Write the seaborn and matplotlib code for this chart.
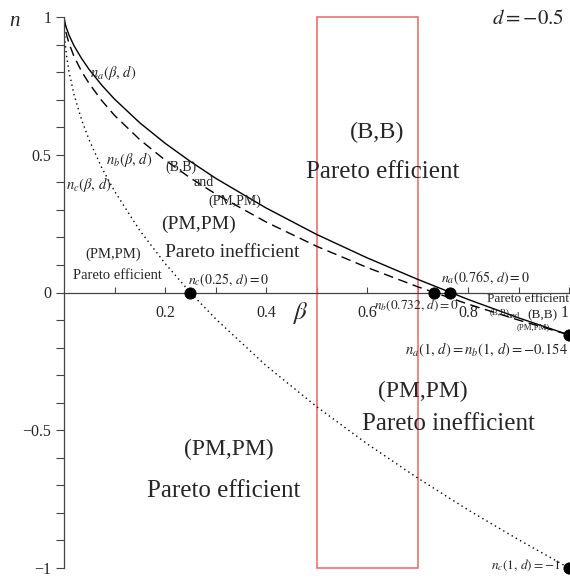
import numpy as np
import pandas as pd
import matplotlib
matplotlib.use("Agg")
import matplotlib.pyplot as plt
import seaborn as sns
from matplotlib.ticker import MultipleLocator, FixedLocator
from matplotlib.patches import Rectangle

# ---- data ----
beta = [0.0, 0.002, 0.005, 0.01, 0.02, 0.035, 0.05, 0.075, 0.1, 0.15, 0.2,
        0.25, 0.3, 0.4, 0.5, 0.6, 0.7, 0.8, 0.9, 1.0]
n_a = [1.0, 0.978, 0.959, 0.934, 0.895, 0.849, 0.809, 0.752, 0.702, 0.616, 0.542,
       0.476, 0.415, 0.307, 0.211, 0.126, 0.048, -0.025, -0.092, -0.154]
n_b = [1.0, 0.963, 0.936, 0.904, 0.856, 0.802, 0.758, 0.696, 0.643, 0.555, 0.481,
       0.416, 0.358, 0.256, 0.168, 0.091, 0.021, -0.042, -0.100, -0.154]
n_c = [1.0, 0.911, 0.859, 0.800, 0.717, 0.626, 0.553, 0.452, 0.368, 0.225, 0.106,
       0.0, -0.095, -0.265, -0.414, -0.549, -0.673, -0.789, -0.897, -1.0]

point_beta = [0.25, 0.732, 0.765, 1.0, 1.0]
point_n = [0.0, 0.0, 0.0, -0.154, -1.0]

highlight_beta = [0.5, 0.7]
highlight_n = [-1.0, 1.0]

x_ticks = [0.2, 0.4, 0.6, 0.8, 1.0]
x_tick_labels = ["0.2", "0.4", "0.6", "0.8", "1"]
x_minor = [0.1, 0.3, 0.5, 0.7, 0.9]
y_ticks = [-1.0, -0.5, 0.0, 0.5, 1.0]
y_tick_labels = ["\u22121", "\u22120.5", "0", "0.5", "1"]

# ---- style ----
sns.set_style("ticks")
plt.rcParams["font.family"] = ["Liberation Serif", "DejaVu Serif"]
plt.rcParams["mathtext.fontset"] = "stix"

fig = plt.figure(figsize=(5.7, 5.78), dpi=100)
ax = fig.add_axes([64 / 570, 10 / 578, 505 / 570, 551 / 578])

df = pd.DataFrame({"beta": beta, "n_a": n_a, "n_b": n_b, "n_c": n_c})
sns.lineplot(data=df, x="beta", y="n_a", ax=ax, color="black", lw=1.0)
sns.lineplot(data=df, x="beta", y="n_b", ax=ax, color="black", lw=1.0,
             linestyle=(0, (7, 4)))
sns.lineplot(data=df, x="beta", y="n_c", ax=ax, color="black", lw=1.0,
             linestyle=(0, (1, 2.5)))
sns.scatterplot(x=point_beta, y=point_n, ax=ax, color="black", s=65,
                edgecolor="black", zorder=5, clip_on=False)

ax.add_patch(Rectangle((highlight_beta[0], highlight_n[0]),
                       highlight_beta[1] - highlight_beta[0],
                       highlight_n[1] - highlight_n[0],
                       fill=False, edgecolor="#f07070", lw=1.2, clip_on=False))

ax.set_xlim(0, 1)
ax.set_ylim(-1, 1)
ax.set_xlabel("")
ax.set_ylabel("")

for s in ["top", "right"]:
    ax.spines[s].set_visible(False)
ax.spines["bottom"].set_position(("data", 0))
for s in ["bottom", "left"]:
    ax.spines[s].set_color("#444444")
    ax.spines[s].set_linewidth(0.9)

ax.set_xticks(x_ticks)
ax.set_xticklabels(x_tick_labels)
ax.get_xticklabels()[-1].set_horizontalalignment("right")
ax.xaxis.set_minor_locator(FixedLocator(x_minor))
ax.tick_params(axis="x", which="both", direction="in", length=4, width=0.8,
               pad=9, labelsize=11.5, color="#444444")
ax.set_yticks(y_ticks)
ax.set_yticklabels(y_tick_labels)
ax.yaxis.set_minor_locator(MultipleLocator(0.1))
ax.tick_params(axis="y", which="both", direction="out", length=6, width=0.8,
               pad=3, labelsize=11.5, color="#444444")

# axis labels
fig.text(15 / 570, 1 - 22 / 578, "n", style="italic", fontsize=15,
         ha="center", va="center")
ax.text(0.468, -0.0726, r"$\beta$", fontsize=18, ha="center", va="center")
ax.text(0.919, 0.991, r"$d=-0.5$", fontsize=15, ha="center", va="center")

# curve labels
ax.text(0.051, 0.799, r"$n_a(\beta,\,d)$", fontsize=10.5, ha="left", va="center")
ax.text(0.083, 0.483, r"$n_b(\beta,\,d)$", fontsize=10.5, ha="left", va="center")
ax.text(0.004, 0.392, r"$n_c(\beta,\,d)$", fontsize=10.5, ha="left", va="center")

# region labels
ax.text(0.232, 0.454, "(B,B)", fontsize=10, ha="center", va="center")
ax.text(0.277, 0.400, "and", fontsize=10, ha="center", va="center")
ax.text(0.338, 0.331, "(PM,PM)", fontsize=10, ha="center", va="center")
ax.text(0.266, 0.247, "(PM,PM)", fontsize=14, ha="center", va="center")
ax.text(0.334, 0.145, "Pareto inefficient", fontsize=14, ha="center", va="center")
ax.text(0.097, 0.140, "(PM,PM)", fontsize=10.5, ha="center", va="center")
ax.text(0.106, 0.062, "Pareto efficient", fontsize=10.5, ha="center", va="center")
ax.text(0.2455, 0.0436, r"$n_c(0.25,\,d)=0$", fontsize=10, ha="left", va="center")

ax.text(0.621, 0.581, "(B,B)", fontsize=17.5, ha="center", va="center")
ax.text(0.632, 0.439, "Pareto efficient", fontsize=18, ha="center", va="center")

ax.text(0.834, 0.051, r"$n_a(0.765,\,d)=0$", fontsize=10, ha="center", va="center")
ax.text(0.698, -0.047, r"$n_b(0.732,\,d)=0$", fontsize=9.5, ha="center", va="center")
ax.text(0.918, -0.025, "Pareto efficient", fontsize=9.6, ha="center", va="center")
ax.text(0.863, -0.073, "(B,B)", fontsize=6.4, ha="center", va="center")
ax.text(0.891, -0.087, "and", fontsize=6, ha="center", va="center")
ax.text(0.929, -0.126, "(PM,PM)", fontsize=6.3, ha="center", va="center")
ax.text(0.948, -0.083, "(B,B)", fontsize=9.5, ha="center", va="center")
ax.text(0.998, -0.207, r"$n_a(1,\,d)=n_b(1,\,d)=-0.154$", fontsize=10.5,
        ha="right", va="center")

ax.text(0.710, -0.359, "(PM,PM)", fontsize=17, ha="center", va="center")
ax.text(0.761, -0.476, "Pareto inefficient", fontsize=18, ha="center", va="center")
ax.text(0.327, -0.570, "(PM,PM)", fontsize=17, ha="center", va="center")
ax.text(0.316, -0.722, "Pareto efficient", fontsize=18, ha="center", va="center")
ax.text(0.984, -0.99, r"$n_c(1,\,d)=-1$", fontsize=9.5, ha="right", va="center")

fig.savefig("out.png", dpi=100)
